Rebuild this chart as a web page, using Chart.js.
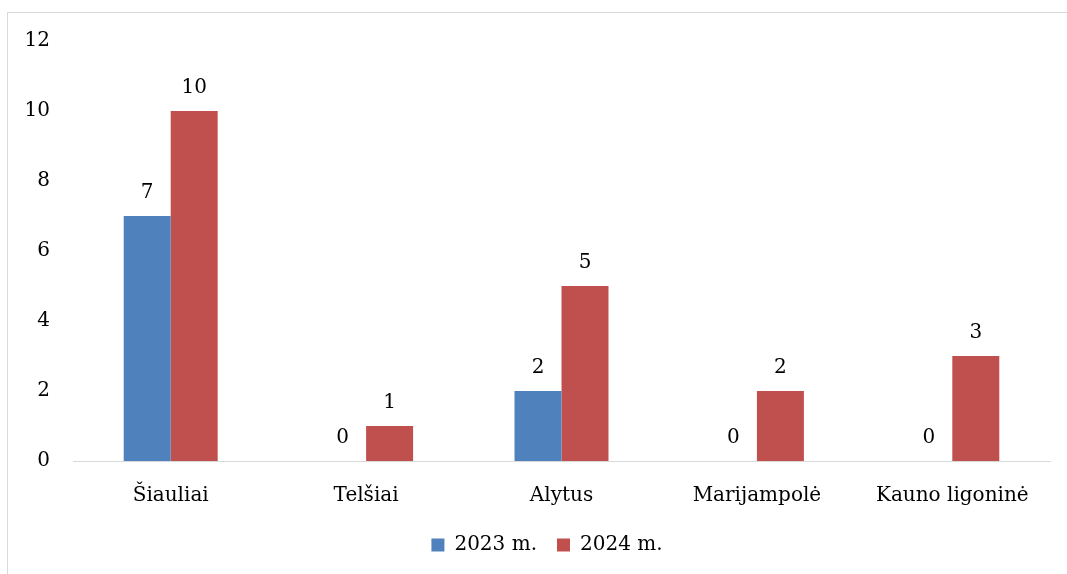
<!DOCTYPE html>
<html>
<head>
<meta charset="utf-8">
<script src="https://cdn.jsdelivr.net/npm/chart.js@4/dist/chart.umd.min.js"></script>
<style>
  html, body { margin: 0; padding: 0; background: #fff; overflow: hidden; }
  #box {
    position: absolute; left: 7px; top: 12px;
    width: 1060px; height: 580px;
    border-left: 1px solid #d9d9d9; border-top: 1px solid #d9d9d9;
  }
</style>
</head>
<body>
<div id="box"><canvas id="chart"></canvas></div>
<script>
const categories = ['Šiauliai', 'Telšiai', 'Alytus', 'Marijampolė', 'Kauno ligoninė'];
const values2023 = [7, 0, 2, 0, 0];
const values2024 = [10, 1, 5, 2, 3];
const yMax = 12;
const yStep = 2;

const FONT = 'DejaVu Serif';
const SIZE = 20;

// values printed above each bar
const barValues = {
    id: 'barValues',
    afterDatasetsDraw(chart) {
        const ctx = chart.ctx;
        ctx.save();
        ctx.font = SIZE + 'px "' + FONT + '"';
        ctx.fillStyle = '#000';
        ctx.textAlign = 'center';
        ctx.textBaseline = 'alphabetic';
        chart.data.datasets.forEach((ds, i) => {
            chart.getDatasetMeta(i).data.forEach((bar, j) => {
                ctx.fillText(String(ds.data[j]), bar.x, bar.y - 18);
            });
        });
        ctx.restore();
    }
};

const data = {
    labels: categories,
    datasets: [
        { label: '2023 m.', data: values2023, backgroundColor: '#4f81bd', borderWidth: 0 },
        { label: '2024 m.', data: values2024, backgroundColor: '#c0504d', borderWidth: 0 }
    ]
};

const options = {
    responsive: true,
    maintainAspectRatio: false,
    animation: false,
    layout: { padding: { left: 18, right: 0, top: 28, bottom: 28 } },
    datasets: { bar: { categoryPercentage: 0.481, barPercentage: 1 } },
    scales: {
        x: {
            grid: { display: false },
            border: { display: true, color: '#d9d9d9', width: 1 },
            ticks: { padding: 15, color: '#000', font: { family: FONT, size: SIZE } },
            afterFit(scale) { scale.height = 54; }
        },
        y: {
            min: 0, max: yMax,
            grid: { display: false, tickLength: 23 },
            border: { display: false },
            ticks: { stepSize: yStep, padding: 0, color: '#000', font: { family: FONT, size: SIZE } },
            afterFit(scale) { scale.width = 47; }
        },
        // empty right-hand margin, keeps the legend centred on the whole frame
        yRight: {
            position: 'right',
            grid: { display: false },
            border: { display: false },
            ticks: { display: false },
            afterFit(scale) { scale.width = 18; }
        }
    },
    plugins: {
        legend: {
            position: 'bottom',
            labels: {
                boxWidth: 13, boxHeight: 13, padding: 20,
                color: '#000', font: { family: FONT, size: SIZE }
            }
        },
        tooltip: { enabled: false }
    }
};

new Chart(document.getElementById('chart'), {
    type: 'bar',
    data: data,
    options: options,
    plugins: [barValues]
});
</script>
</body>
</html>
